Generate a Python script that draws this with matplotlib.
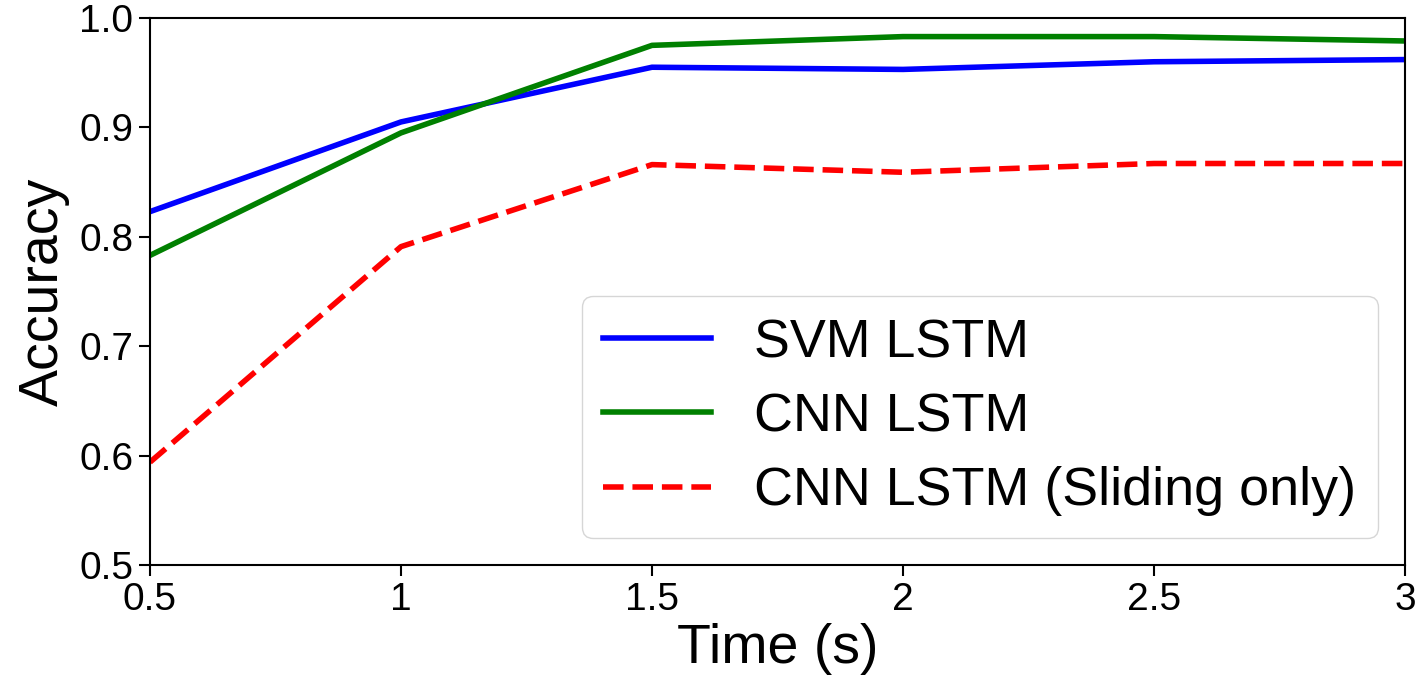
import numpy as np
import matplotlib
matplotlib.use("Agg")
import matplotlib.pyplot as plt

plt.rcParams['font.family'] = ['Liberation Sans', 'DejaVu Sans']

# data
time_s = [0.5, 1.0, 1.5, 2.0, 2.5, 3.0]
svm_lstm = [0.823, 0.905, 0.955, 0.953, 0.960, 0.962]
cnn_lstm = [0.783, 0.895, 0.975, 0.983, 0.983, 0.979]
cnn_sliding = [0.594, 0.791, 0.866, 0.859, 0.867, 0.867]

x_ticks = [0.5, 1, 1.5, 2, 2.5, 3]
x_ticklabels = ['0.5', '1', '1.5', '2', '2.5', '3']
y_ticks = [0.5, 0.6, 0.7, 0.8, 0.9, 1.0]
y_ticklabels = ['0.5', '0.6', '0.7', '0.8', '0.9', '1.0']

fig = plt.figure(figsize=(14.2, 6.81), dpi=100)
ax = fig.add_axes([150/1420, 1 - 565/681, (1405-150)/1420, (565-18)/681])

ax.plot(time_s, svm_lstm, '-', color='blue', lw=4, label='SVM LSTM')
ax.plot(time_s, cnn_lstm, '-', color='green', lw=4, label='CNN LSTM')
ax.plot(time_s, cnn_sliding, '--', color='red', lw=4, label='CNN LSTM (Sliding only)')

ax.set_xlim(0.5, 3)
ax.set_ylim(0.5, 1.0)
ax.set_xticks(x_ticks)
ax.set_xticklabels(x_ticklabels)
ax.set_yticks(y_ticks)
ax.set_yticklabels(y_ticklabels)
ax.tick_params(axis='both', labelsize=28, length=8, width=1.5, pad=4)
for s in ax.spines.values():
    s.set_linewidth(1.5)

ax.set_xlabel('Time (s)', fontsize=40, labelpad=4)
ax.set_ylabel('Accuracy', fontsize=40, labelpad=7)

ax.legend(loc='lower right', fontsize=38.8, labelspacing=0.45)

fig.savefig('out.png', dpi=100)
